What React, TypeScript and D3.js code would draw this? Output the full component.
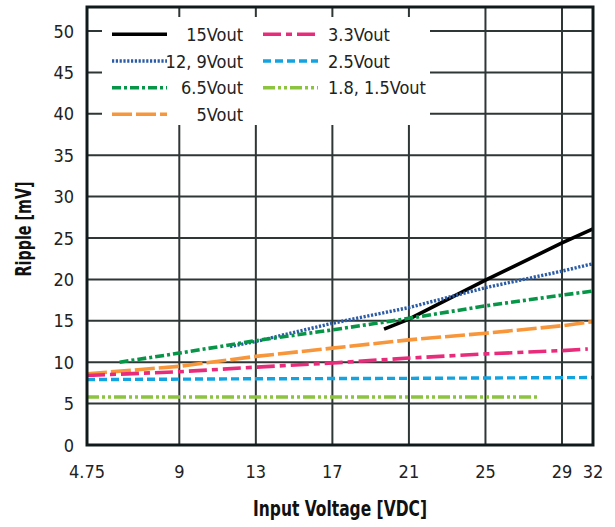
import * as d3 from "d3";
import React from "react";

// x ticks are not evenly spaced in the original; the scale is piecewise
const xTicks = [4.75, 9, 13, 17, 21, 25, 29, 32];
const yTicks = [0, 5, 10, 15, 20, 25, 30, 35, 40, 45, 50];

const v15 = [[19.7, 14.0], [21, 15.2], [25, 19.9], [29, 24.4], [32, 26.1]];
const v12 = [[11.65, 11.9], [13, 12.5], [17, 14.7], [21, 16.6], [25, 19.0], [29, 21.0], [32, 21.9]];
const v65 = [[6.25, 10.0], [9, 11.1], [13, 12.6], [17, 13.9], [21, 15.3], [25, 16.8], [29, 18.1], [32, 18.6]];
const v5 = [[4.75, 8.6], [9, 9.5], [13, 10.7], [17, 11.7], [21, 12.7], [25, 13.5], [29, 14.4], [32, 14.9]];
const v33 = [[4.75, 8.4], [9, 8.85], [13, 9.4], [17, 9.9], [21, 10.5], [25, 11.0], [29, 11.4], [31.5, 11.6]];
const v25 = [[4.75, 7.9], [13, 8.0], [21, 8.05], [32, 8.15]];
const v18 = [[4.75, 5.8], [27.7, 5.8]];

const series = [
  { name: "15Vout", data: v15, color: "#000000", dash: "", width: 3.6 },
  { name: "12, 9Vout", data: v12, color: "#2b5ca8", dash: "2.2,1.6", width: 3.4 },
  { name: "6.5Vout", data: v65, color: "#079548", dash: "9,3,3,3", width: 3.6 },
  { name: "5Vout", data: v5, color: "#f7963a", dash: "20,4", width: 3.6 },
  { name: "3.3Vout", data: v33, color: "#e82c7b", dash: "18,5,6,5", width: 3.6 },
  { name: "2.5Vout", data: v25, color: "#12a3e0", dash: "8,4", width: 3.4 },
  { name: "1.8, 1.5Vout", data: v18, color: "#8cc43f", dash: "12,3,3,3,3,3", width: 3.6 },
];

const font = "'Liberation Sans Narrow', 'DejaVu Sans Condensed', 'Arial Narrow', sans-serif";

export default function App() {
  const x = d3.scaleLinear().domain([4.75, 9, 29, 32]).range([87, 179.3, 562, 593]);
  const y = d3.scaleLinear().domain([0, 50]).range([445, 31]);
  const top = 7;
  const line = d3
    .line<number[]>()
    .x((d) => x(d[0]))
    .y((d) => y(d[1]));

  const col1 = series.slice(0, 4);
  const col2 = series.slice(4);
  const rowY = [34.3, 61, 87.7, 114.3];

  return (
    <div>
      <style>{"body{margin:0}"}</style>
      <svg width={615} height={527} style={{ display: "block", fontFamily: font }}>
        <rect width={615} height={527} fill="#fff" />
        {/* grid */}
        {xTicks.slice(1, -1).map((t) => (
          <line key={"gx" + t} x1={x(t)} x2={x(t)} y1={top} y2={445} stroke="#2f3636" strokeWidth={2} />
        ))}
        {yTicks.slice(1).map((t) => (
          <line key={"gy" + t} x1={87} x2={593} y1={y(t)} y2={y(t)} stroke="#2f3636" strokeWidth={2} />
        ))}
        {/* legend background */}
        <rect x={102} y={17} width={328} height={108} fill="#fff" />
        {/* series */}
        {series.map((s) => (
          <path
            key={s.name}
            d={line(s.data as number[][]) || ""}
            fill="none"
            stroke={s.color}
            strokeWidth={s.width}
            strokeDasharray={s.dash}
          />
        ))}
        {/* frame */}
        <rect x={87} y={top} width={593 - 87} height={445 - top} fill="none" stroke="#111a1a" strokeWidth={3} />
        {/* y labels */}
        {yTicks.map((t) => (
          <text key={"yl" + t} x={74} y={y(t)} textAnchor="end" dominantBaseline="central" fontSize={18} fill="#222">
            {t}
          </text>
        ))}
        {xTicks.map((t) => (
          <text key={"xl" + t} x={x(t)} y={471} textAnchor="middle" dominantBaseline="central" fontSize={18} fill="#222">
            {t}
          </text>
        ))}
        <text
          x={340}
          y={509}
          textAnchor="middle"
          dominantBaseline="central"
          fontSize={21}
          fontWeight="bold"
          fill="#111"
          textLength={174}
          lengthAdjust="spacingAndGlyphs"
        >
          Input Voltage [VDC]
        </text>
        <text
          transform="translate(24,229) rotate(-90)"
          textAnchor="middle"
          dominantBaseline="central"
          fontSize={21}
          fontWeight="bold"
          fill="#111"
          textLength={95}
          lengthAdjust="spacingAndGlyphs"
        >
          Ripple [mV]
        </text>
        {/* legend */}
        {col1.map((s, i) => (
          <g key={"l1" + s.name}>
            <line x1={112} x2={167} y1={rowY[i]} y2={rowY[i]} stroke={s.color} strokeWidth={s.width} strokeDasharray={s.dash} />
            <text x={243} y={rowY[i]} textAnchor="end" dominantBaseline="central" fontSize={18} fill="#222">
              {s.name}
            </text>
          </g>
        ))}
        {col2.map((s, i) => (
          <g key={"l2" + s.name}>
            <line x1={263} x2={318} y1={rowY[i]} y2={rowY[i]} stroke={s.color} strokeWidth={s.width} strokeDasharray={s.dash} />
            <text x={328} y={rowY[i]} textAnchor="start" dominantBaseline="central" fontSize={18} fill="#222">
              {s.name}
            </text>
          </g>
        ))}
      </svg>
    </div>
  );
}
